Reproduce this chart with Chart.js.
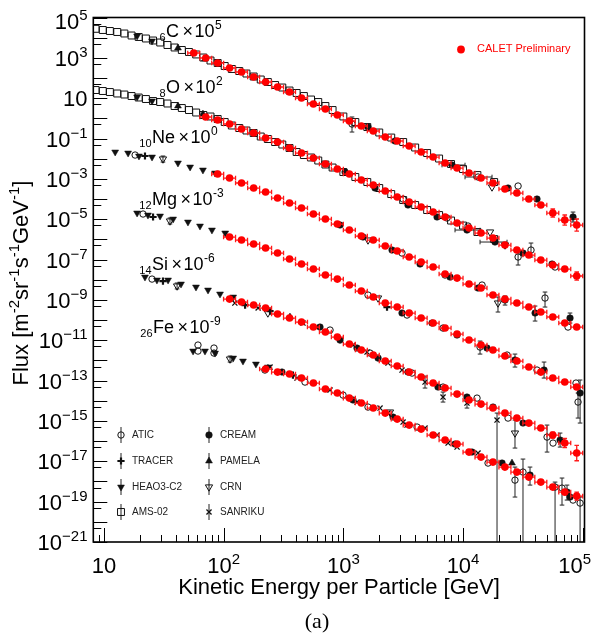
<!DOCTYPE html>
<html><head><meta charset="utf-8">
<script src="https://cdn.jsdelivr.net/npm/chart.js@4.4.1/dist/chart.umd.min.js"></script>
<style>html,body{margin:0;padding:0;background:#fff}canvas{display:block}</style>
</head><body>
<canvas id="c" width="595" height="639"></canvas>
<script>
// ---------------- DATA ----------------
// axis ticks
const xTickExps = [1, 2, 3, 4, 5];
const yTickExps = [5, 3, 1, -1, -3, -5, -7, -9, -11, -13, -15, -17, -19, -21];
// element labels: [charge, symbol, scale exponent]
const elemLabels = [['6','C','5'],['8','O','2'],['10','Ne','0'],['12','Mg','-3'],['14','Si','-6'],['26','Fe','-9']];

// CALET Preliminary (kinetic energy per particle [GeV], flux x scale factor)
const caletE = [56.2,70.8,89.1,112,141,178,224,282,355,447,562,708,891,1122,1413,1778,2239,2818,3548,4467,5623,7079,8913,11220,14130,17780,22390,28180,35480,44670,56230,70790,89130];
const caletC = [1740,982,555,313,199,112,63.4,35.8,20.2,10.2,5.14,2.91,1.47,0.739,0.418,0.236,0.119,0.0753,0.0426,0.0215,0.0121,6.11e-3,3.45e-3,1.95e-3,1.10e-3,6.24e-4,3.14e-4,1.99e-4,1.00e-4,5.06e-5,2.03e-5,9.12e-6,5.15e-6];
const caletO = [null,1.17,0.828,0.525,0.296,0.188,0.106,0.0672,0.0339,0.0191,0.0108,5.46e-3,3.08e-3,1.74e-3,8.77e-4,4.95e-4,2.50e-4,1.26e-4,7.11e-5,4.02e-5,2.27e-5,1.28e-5,6.47e-6,3.66e-6,2.07e-6,1.17e-6,5.26e-7,2.97e-7,1.68e-7,9.48e-8,5.36e-8,3.40e-8,1.53e-8];
const caletNe = [null,null,1.74e-3,1.10e-3,6.24e-4,3.52e-4,2.23e-4,1.12e-4,6.35e-5,3.59e-5,1.81e-5,1.02e-5,5.78e-6,2.91e-6,1.47e-6,9.29e-7,4.69e-7,2.65e-7,1.34e-7,7.55e-8,4.27e-8,1.92e-8,1.21e-8,6.12e-9,3.88e-9,1.75e-9,1.10e-9,7.00e-10,4.43e-10,2.51e-10,1.42e-10,7.13e-11,4.52e-11];
const caletMg = [null,null,null,1.31e-6,9.31e-7,5.89e-7,3.73e-7,2.11e-7,1.06e-7,6.01e-8,3.40e-8,1.71e-8,1.08e-8,5.46e-9,2.75e-9,1.39e-9,7.00e-10,4.43e-10,2.23e-10,1.26e-10,7.13e-11,4.04e-11,2.03e-11,1.03e-11,5.79e-12,3.27e-12,1.65e-12,9.31e-13,4.70e-13,2.65e-13,1.34e-13,8.47e-14,4.79e-14];
const caletSi = [null,null,null,1.10e-9,7.83e-10,5.57e-10,3.95e-10,2.00e-10,1.26e-10,8.00e-11,4.52e-11,2.55e-11,1.44e-11,6.49e-12,3.27e-12,1.85e-12,9.31e-13,5.26e-13,2.65e-13,1.50e-13,7.57e-14,4.28e-14,2.15e-14,1.09e-14,6.87e-15,4.36e-15,2.46e-15,1.39e-15,7.85e-16,4.45e-16,2.00e-16,8.02e-17,2.56e-17];
const caletFe = [null,null,null,null,null,null,3.74e-13,2.65e-13,2.11e-13,1.34e-13,7.57e-14,3.81e-14,2.42e-14,1.36e-14,7.71e-15,4.36e-15,2.46e-15,1.24e-15,6.25e-16,3.96e-16,2.00e-16,1.13e-16,7.14e-17,2.86e-17,1.62e-17,9.14e-18,5.16e-18,2.92e-18,1.65e-18,9.33e-19,5.27e-19,2.98e-19,1.89e-19];
// CALET uncertainties (log10) of the five highest-energy bins
const caletErrC = [0.06,0.1,0.2,0.25,0.3];
const caletErrO = [0.04,0.05,0.07,0.1,0.2];
const caletErrNe = [0.03,0.04,0.05,0.08,0.12];
const caletErrMg = [0.03,0.04,0.05,0.07,0.1];
const caletErrSi = [0.05,0.1,0.15,0.23,0.38];
const caletErrFe = [0.04,0.06,0.08,0.12,0.2];
const caletHalfBinDex = 0.05;

// AMS-02 (C and O)
const amsE = [8.51,9.77,11.2,12.9,14.8,17.0,19.5,22.4,25.7,29.5,33.9,38.9,44.7,51.3,58.9,67.6,77.6,89.1,102,117,135,155,178,204,234,269,309,355,407,468,537,617,708,813,1000,1259,1585,1995,2512,3162,3981,5012,6310,7943,10000,13183,18197];
const amsC = [2.75e4,2.40e4,2.14e4,1.91e4,1.61e4,1.28e4,1.08e4,9.10e3,7.24e3,5.76e3,4.33e3,3.26e3,2.45e3,1.95e3,1.47e3,1.04e3,738,555,394,280,222,167,119,84.4,63.4,45.0,33.8,24.0,18.1,12.8,8.59,6.46,4.09,2.59,1.24,0.659,0.372,0.199,0.112,0.0672,0.0359,0.0191,0.0102,5.46e-3,3.08e-3,1.55e-3,6.98e-4];
const amsO = [25.4,22.7,20.2,17.1,15.2,12.8,10.8,9.10,7.24,6.46,5.45,4.09,3.26,2.59,1.95,1.47,1.24,0.929,0.659,0.442,0.332,0.250,0.188,0.126,0.0946,0.0672,0.0505,0.0339,0.0215,0.0152,0.0115,8.13e-3,5.15e-3,3.66e-3,2.19e-3,1.24e-3,6.98e-4,3.52e-4,1.77e-4,8.95e-5,5.06e-5,2.86e-5,1.61e-5,8.61e-6,4.86e-6,2.32e-6,1.04e-6];

// CREAM
const creamE = [1607,2703,8095,23770,41500,82990, 1033,1839,3468,6065,10790,18500,31700,55450, 938,1459,2551,4375,7786,13340,22440,39990,78330, 3091,5508,8913,15850,27170,47530,95060, 638,938,1300,1950,3468,6178,10790,17810,31700,64710, 307,1205,2600,8572,11890,21180,36290,73940,78330];
const creamF = [0.373,0.0753,4.86e-3,3.52e-4,1.00e-4,1.29e-5, 2.19e-3,3.52e-4,5.06e-5,1.29e-5,2.91e-6,7.41e-7,2.11e-7,6.01e-8, 5.16e-6,1.31e-6,2.97e-7,6.01e-8,1.36e-8,3.88e-9,9.86e-10,2.24e-10,1.26e-10, 2.24e-10,7.14e-11,1.81e-11,4.11e-12,1.05e-12,3.34e-13,2.42e-14, 4.52e-11,1.02e-11,4.11e-12,1.31e-12,2.66e-13,4.79e-14,1.53e-14,4.89e-15,7.87e-16,1.13e-16, 2.66e-13,1.09e-14,1.56e-15,7.15e-17,2.87e-17,8.18e-18,2.08e-18,2.98e-19,1.69e-19];
const creamYErr = [[5,7.26e-6,2.27e-5],[20,5.57e-10,1.56e-9],[21,8.97e-11,4.97e-10],[22,7.14e-11,2.24e-10],[27,4.70e-13,2.07e-12],[28,1.34e-13,8.32e-13],[29,7.87e-16,1.07e-13],[39,5.08e-17,2.51e-16],[46,6.63e-19,5.18e-18],[47,1.20e-19,6.63e-19]];
const creamXErr = [[2,6674,10390],[10,8573,13870],[11,13870,23310]];

// ATIC
const aticE = [18.2,21.2,25.2,61.0,61.0,83.0,83.0, 13340,28840,1181, 3155,7345,11010,28840,36980,58740, 3091,7076,14420,48420,75340, 1607,3405,6805,13870,23330,41500,87880,91410, 774,1670,3750,6805,13090,23770,50350,56490, 221,478,994,1607,4130,16180,27170,31700,58740,67150,82990,95060];
const aticF = [0.0152,1.81e-5,1.08e-8,5.79e-12,2.92e-12,4.11e-12,2.32e-12, 1.24e-3,4.42e-4,0.525, 1.00e-4,1.15e-5,4.60e-6,1.34e-7,2.97e-7,4.27e-8, 2.11e-7,1.71e-8,5.46e-9,1.24e-9,4.52e-11, 1.74e-9,1.78e-10,4.03e-11,4.61e-12,1.85e-12,3.34e-13,7.56e-14,8.65e-15, 3.21e-11,2.32e-12,2.37e-13,4.79e-14,1.36e-14,1.39e-15,1.59e-16,8.02e-17, 3.34e-13,8.48e-14,1.92e-14,4.89e-15,4.98e-16,8.18e-18,1.17e-18,2.93e-18,5.28e-19,4.71e-19,1.20e-19,8.50e-20];
const aticYErr = [[9,0.210,1.17],[13,5.36e-8,2.97e-7],[14,1.34e-7,6.60e-7],[19,4.43e-10,2.46e-9],[24,2.07e-12,9.15e-12],[28,1.39e-15,2.42e-14],[35,2.87e-17,6.26e-16],[43,1.69e-19,5.18e-18],[44,1e-22,1.29e-17],[45,1e-22,9.34e-19],[46,6.76e-20,1.48e-18],[48,1e-22,1.69e-19]];
const aticXErr = [[7,10390,17470]];

// TRACER
const tracerE = [22.0,25.7,2317,31.1,151,244,379];
const tracerF = [0.0136,1.29e-5,4.43e-10,8.63e-9,5.57e-10,2.81e-10,1.89e-13];

// HEAO3-C2
const heaoE = [18.9,25.2, 18.9,25.2, 12.4,15.9,19.6,25.2,41.5,52.4,67.1,84.7, 18.9,23.3,29.4,37.8,50.3,63.4,79.8,103, 22.0,27.7,34.3,44.0,58.7,74.0,93.2,120, 55.5,69.8,84.7,120,145,186,234];
const heaoF = [1.21e4,6.84e3, 11.4,7.25, 0.0215,0.0191,0.0136,0.0121,6.11e-3,3.87e-3,2.75e-3,1.95e-3, 2.03e-5,1.61e-5,1.44e-5,1.02e-5,7.26e-6,4.60e-6,2.91e-6,2.07e-6, 1.36e-8,9.67e-9,9.67e-9,6.13e-9,4.35e-9,3.09e-9,1.96e-9,1.39e-9, 2.92e-12,2.92e-12,2.32e-12,1.31e-12,9.32e-13,6.62e-13,4.70e-13];

// PAMELA
const pamelaE = [41.5,69.8,41.5,67.1,358,25650];
const pamelaF = [3070,876,4.09,1.64,1.42e-10,8.18e-18];

// CRN
const crnE = [31.1,35.6,40.8,113,17460,16820,22440,1607,19590,1950,234,27170,2453];
const crnF = [9.65e-3,8.14e-6,4.88e-9,1.17e-12,3.95e-4,2.32e-6,5.26e-7,9.30e-7,7.00e-10,1.24e-9,2.24e-10,2.51e-16,2.76e-15];
const crnYErr = [[0,6.8e-3,0.0136],[1,5.8e-6,1.15e-5],[2,3.5e-9,6.9e-9],[3,8.3e-13,1.65e-12],[8,2.51e-10,1.39e-9],[11,4.53e-17,1.11e-15]];

// SANRIKU
const sanrikuE = [124,194,460,1205,1577,2361,3091,4813,6805,10790,19230, 244,410,774,1300,2025,2361,3155,3405,4813,6065,7499,8913,13340];
const sanrikuF = [7.00e-10,3.96e-10,7.14e-11,5.79e-12,2.60e-12,7.42e-13,3.34e-13,8.48e-14,1.53e-14,7.71e-15,1.11e-15, 4.70e-13,1.34e-13,3.40e-14,8.65e-15,4.36e-15,2.46e-15,8.81e-16,6.26e-16,4.44e-16,2.00e-16,8.02e-17,5.08e-17,2.56e-17];
const sanrikuYErr = [[7,4.28e-14,1.68e-13],[8,8.65e-15,2.71e-14],[9,4.36e-15,1.71e-14],[10,1e-22,2.46e-15]];

// ---------------- BUILD ----------------
const FONT = '"Liberation Sans", Arial, Helvetica, sans-serif';
function mk(E, F, yErr, xErr) {
  const d = E.map((e, i) => ({ x: e, y: F[i] }));
  (yErr || []).forEach(([i, lo, hi]) => { d[i].yLo = lo; d[i].yHi = hi; });
  (xErr || []).forEach(([i, lo, hi]) => { d[i].xLo = lo; d[i].xHi = hi; });
  return d;
}
function caletPts(F, tail) {
  const d = [];
  const f = Math.pow(10, caletHalfBinDex);
  F.forEach((v, i) => { if (v == null) return; d.push({ x: caletE[i], y: v, xLo: caletE[i] / f, xHi: caletE[i] * f }); });
  const n = d.length;
  tail.forEach((t, j) => { const p = d[n - tail.length + j]; const k = Math.pow(10, t); p.yLo = p.y / k; p.yHi = p.y * k; });
  return d;
}
const caletData = [].concat(
  caletPts(caletC, caletErrC), caletPts(caletO, caletErrO), caletPts(caletNe, caletErrNe),
  caletPts(caletMg, caletErrMg), caletPts(caletSi, caletErrSi), caletPts(caletFe, caletErrFe));

const BLK = '#111';
const styles = {
  ATIC:     { pointStyle: 'circle', radius: 3.2, borderWidth: 1, backgroundColor: 'rgba(0,0,0,0)', borderColor: BLK, rotation: 0 },
  CREAM:    { pointStyle: 'circle', radius: 3.3, borderWidth: 0.5, backgroundColor: BLK, borderColor: BLK, rotation: 0 },
  TRACER:   { pointStyle: 'cross', radius: 3.6, borderWidth: 2.2, backgroundColor: BLK, borderColor: BLK, rotation: 0 },
  PAMELA:   { pointStyle: 'triangle', radius: 4, borderWidth: 0.5, backgroundColor: BLK, borderColor: BLK, rotation: 0 },
  'HEAO3-C2': { pointStyle: 'triangle', radius: 4, borderWidth: 0.5, backgroundColor: BLK, borderColor: BLK, rotation: 180 },
  CRN:      { pointStyle: 'triangle', radius: 4.2, borderWidth: 1, backgroundColor: 'rgba(0,0,0,0)', borderColor: BLK, rotation: 180 },
  'AMS-02': { pointStyle: 'rect', radius: 4.9, borderWidth: 1, backgroundColor: 'rgba(0,0,0,0)', borderColor: BLK, rotation: 0 },
  SANRIKU:  { pointStyle: 'crossRot', radius: 3.6, borderWidth: 1.3, backgroundColor: BLK, borderColor: BLK, rotation: 0 }
};
function ds(label, data) {
  const s = styles[label];
  return { label, data, pointStyle: s.pointStyle, pointRadius: s.radius, pointBorderWidth: s.borderWidth,
    pointBackgroundColor: s.backgroundColor, pointBorderColor: s.borderColor, pointRotation: s.rotation,
    showLine: false, errColor: '#222', errWidth: 1 };
}
const datasets = [
  { label: 'CALET Preliminary', data: caletData, pointStyle: 'circle', pointRadius: 3.8, pointBorderWidth: 0,
    pointBackgroundColor: '#ff0000', pointBorderColor: '#ff0000', showLine: false, errColor: '#ff1a1a', errWidth: 1.3 },
  ds('CREAM', mk(creamE, creamF, creamYErr, creamXErr)),
  ds('ATIC', mk(aticE, aticF, aticYErr, aticXErr)),
  ds('TRACER', mk(tracerE, tracerF)),
  ds('PAMELA', mk(pamelaE, pamelaF)),
  ds('CRN', mk(crnE, crnF, crnYErr)),
  ds('SANRIKU', mk(sanrikuE, sanrikuF, sanrikuYErr)),
  ds('HEAO3-C2', mk(heaoE, heaoF)),
  ds('AMS-02', [].concat(mk(amsE, amsC), mk(amsE, amsO)))
];

// ---------------- PLUGINS ----------------
const errorBars = {
  id: 'errorBars',
  beforeDatasetDraw(chart, args) {
    const d = chart.data.datasets[args.index];
    const meta = args.meta, ctx = chart.ctx, a = chart.chartArea;
    const xs = chart.scales.x, ys = chart.scales.y;
    ctx.save();
    ctx.beginPath(); ctx.rect(a.left, a.top, a.right - a.left, a.bottom - a.top); ctx.clip();
    ctx.strokeStyle = d.errColor; ctx.lineWidth = d.errWidth;
    const cap = 2.3;
    ctx.beginPath();
    d.data.forEach((p, i) => {
      const el = meta.data[i]; if (!el) return;
      const x = el.x, y = el.y;
      if (p.xLo != null) {
        const x1 = xs.getPixelForValue(p.xLo), x2 = xs.getPixelForValue(p.xHi);
        ctx.moveTo(x1, y); ctx.lineTo(x2, y);
        ctx.moveTo(x1, y - cap); ctx.lineTo(x1, y + cap);
        ctx.moveTo(x2, y - cap); ctx.lineTo(x2, y + cap);
      }
      if (p.yLo != null) {
        const y1 = ys.getPixelForValue(p.yLo), y2 = ys.getPixelForValue(p.yHi);
        ctx.moveTo(x, y1); ctx.lineTo(x, y2);
        ctx.moveTo(x - cap, y1); ctx.lineTo(x + cap, y1);
        ctx.moveTo(x - cap, y2); ctx.lineTo(x + cap, y2);
      }
    });
    ctx.stroke();
    ctx.restore();
  }
};

function runs(ctx, parts, x, y, measureOnly) {
  let cx = x;
  parts.forEach(p => {
    ctx.font = p.font;
    cx += (p.gap || 0);
    if (!measureOnly) ctx.fillText(p.t, cx, y + (p.dy || 0));
    cx += ctx.measureText(p.t).width;
  });
  return cx - x;
}
function markerAt(ctx, s, x, y) {
  ctx.save();
  ctx.fillStyle = s.backgroundColor; ctx.strokeStyle = s.borderColor; ctx.lineWidth = s.borderWidth;
  Chart.helpers.drawPoint(ctx, { pointStyle: s.pointStyle, rotation: s.rotation, radius: s.radius, borderWidth: s.borderWidth }, x, y);
  ctx.restore();
}

const decor = {
  id: 'decor',
  afterDraw(chart) {
    const ctx = chart.ctx, a = chart.chartArea, xs = chart.scales.x, ys = chart.scales.y;
    ctx.save();
    // ticks
    ctx.strokeStyle = '#000'; ctx.lineWidth = 1;
    ctx.beginPath();
    for (let d = 0; d <= 5; d++) for (let m = 1; m <= 9; m++) {
      const v = m * Math.pow(10, d);
      if (v < xs.min || v > xs.max) continue;
      const px = Math.round(xs.getPixelForValue(v)) + 0.5;
      const len = m === 1 ? 14 : 7;
      ctx.moveTo(px, a.bottom); ctx.lineTo(px, a.bottom - len);
    }
    for (let e = -21; e <= 5; e++) {
      [[1, 14], [5, 8]].forEach(([m, len]) => {
        const v = m * Math.pow(10, e);
        if (v < ys.min * 0.999 || v > ys.max * 1.001) return;
        const py = Math.round(ys.getPixelForValue(v)) + 0.5;
        ctx.moveTo(a.left, py); ctx.lineTo(a.left + len, py);
      });
    }
    ctx.stroke();
    // frame
    ctx.lineWidth = 1.6;
    ctx.strokeRect(a.left, a.top, a.right - a.left, a.bottom - a.top);

    // tick labels
    const fBase = '22px ' + FONT, fExp = '15px ' + FONT;
    ctx.fillStyle = '#000'; ctx.textAlign = 'left'; ctx.textBaseline = 'alphabetic';
    const fmtExp = e => (e < 0 ? '\u2212' + (-e) : String(e));
    yTickExps.forEach(e => {
      const py = ys.getPixelForValue(Math.pow(10, e));
      const es = e === 1 ? '' : fmtExp(e);
      const parts = [{ t: '10', font: fBase }];
      if (es) parts.push({ t: es, font: fExp, dy: -9 });
      const w = runs(ctx, parts, 0, 0, true);
      runs(ctx, parts, 87.5 - w, Math.max(py + 8, 28.5));
    });
    xTickExps.forEach(e => {
      const px = xs.getPixelForValue(Math.pow(10, e));
      const es = e === 1 ? '' : fmtExp(e);
      const parts = [{ t: '10', font: fBase }];
      if (es) parts.push({ t: es, font: fExp, dy: -9.5 });
      const w = runs(ctx, parts, 0, 0, true);
      runs(ctx, parts, Math.min(px - w / 2, 591 - w), 573);
    });

    // axis titles
    const fTitle = '22px ' + FONT, fTitleSup = '15px ' + FONT;
    const xt = [{ t: 'Kinetic Energy per Particle [GeV]', font: fTitle }];
    const wx = runs(ctx, xt, 0, 0, true);
    runs(ctx, xt, 339 - wx / 2, 593.5);
    const yt = [
      { t: 'Flux [m', font: fTitle }, { t: '-2', font: fTitleSup, dy: -9 },
      { t: 'sr', font: fTitle }, { t: '-1', font: fTitleSup, dy: -9 },
      { t: 's', font: fTitle }, { t: '-1', font: fTitleSup, dy: -9 },
      { t: 'GeV', font: fTitle }, { t: '-1', font: fTitleSup, dy: -9 },
      { t: ']', font: fTitle }];
    const wy = runs(ctx, yt, 0, 0, true);
    ctx.save(); ctx.translate(28, 283); ctx.rotate(-Math.PI / 2);
    runs(ctx, yt, -wy / 2, 0);
    ctx.restore();

    // (a)
    ctx.font = '22px "Liberation Serif", "Times New Roman", serif';
    ctx.textAlign = 'center';
    ctx.fillText('(a)', 317, 628);
    ctx.textAlign = 'left';

    // element labels
    const labelPos = [[166, 37], [166, 93], [152, 143], [152, 205], [152, 270], [153, 333]];
    const fEl = '18px ' + FONT, fSub = '11px ' + FONT, fSup = '12px ' + FONT;
    elemLabels.forEach(([z, sym, ex], k) => {
      const [x0, y0] = labelPos[k];
      ctx.font = fSub; const ws = ctx.measureText(z).width;
      ctx.fillText(z, x0 - ws - 0.5, y0 + 4);
      runs(ctx, [
        { t: sym, font: fEl }, { t: '\u00d7', font: fEl, gap: 3.5 },
        { t: '10', font: fEl, gap: 1.5 }, { t: ex, font: fSup, dy: -8, gap: 0.5 }], x0, y0);
    });

    // CALET legend
    ctx.fillStyle = '#ff0000';
    ctx.beginPath(); ctx.arc(461, 49.5, 3.9, 0, Math.PI * 2); ctx.fill();
    ctx.font = '11px ' + FONT; ctx.textBaseline = 'middle';
    ctx.fillText('CALET Preliminary', 477, 49);

    // experiment legend
    const legendCols = [[121, ['ATIC', 'TRACER', 'HEAO3-C2', 'AMS-02']], [209, ['CREAM', 'PAMELA', 'CRN', 'SANRIKU']]];
    const rowsY = [435, 461, 487, 512];
    legendCols.forEach(([lx, names]) => {
      names.forEach((nm, r) => {
        const y = rowsY[r];
        ctx.strokeStyle = '#222'; ctx.lineWidth = 1;
        ctx.beginPath(); ctx.moveTo(lx, y - 8); ctx.lineTo(lx, y + 8); ctx.stroke();
        markerAt(ctx, styles[nm], lx, y);
        ctx.fillStyle = '#222'; ctx.font = '10px ' + FONT; ctx.textBaseline = 'middle';
        ctx.fillText(nm, lx + 11, y + 0.5);
      });
    });
    ctx.restore();
  }
};

new Chart(document.getElementById('c'), {
  type: 'scatter',
  data: { datasets },
  options: {
    responsive: false, animation: false, devicePixelRatio: 1, events: [],
    layout: { padding: { left: 93.3, right: 10.5, top: 17.5, bottom: 97 } },
    plugins: { legend: { display: false }, tooltip: { enabled: false } },
    scales: {
      x: { type: 'logarithmic', min: 8.14, max: 103500, display: false },
      y: { type: 'logarithmic', min: 1e-21, max: 1e5, display: false }
    }
  },
  plugins: [errorBars, decor]
});
</script>
</body></html>
